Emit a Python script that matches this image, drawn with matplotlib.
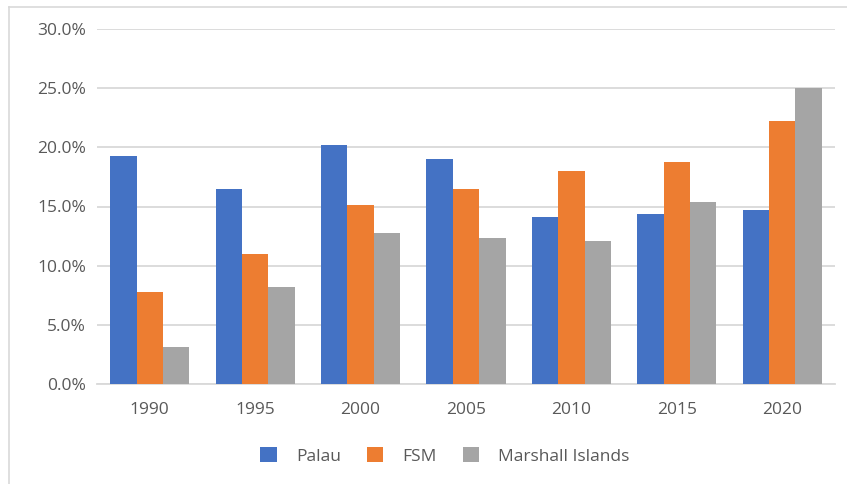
import matplotlib
matplotlib.use("Agg")
import matplotlib.pyplot as plt
import numpy as np
from matplotlib.ticker import PercentFormatter
from matplotlib.lines import Line2D

years = ["1990", "1995", "2000", "2005", "2010", "2015", "2020"]
palau = [19.3, 16.5, 20.2, 19.0, 14.1, 14.4, 14.7]
fsm = [7.8, 11.0, 15.1, 16.5, 18.0, 18.8, 22.2]
marshall = [3.1, 8.2, 12.8, 12.3, 12.1, 15.4, 25.0]

series = [("Palau", palau, "#4472C4"),
          ("FSM", fsm, "#ED7D31"),
          ("Marshall Islands", marshall, "#A5A5A5")]

plt.rcParams["font.family"] = ["Open Sans", "DejaVu Sans"]
text_color = "#595959"
grid_color = "#D9D9D9"

fig = plt.figure(figsize=(8.47, 4.84), dpi=100)
ax = fig.add_axes([97 / 847, 100 / 484, (835 - 97) / 847, (384 - 29) / 484])

x = np.arange(len(years))
width = 0.25
for i, (name, vals, color) in enumerate(series):
    ax.bar(x + (i - 1) * width, vals, width, color=color, label=name, zorder=3)

ax.set_xlim(-0.5, len(years) - 0.5)
ax.set_ylim(0, 30)
ax.set_yticks(np.arange(0, 30.1, 5))
ax.yaxis.set_major_formatter(PercentFormatter(decimals=1))
ax.set_xticks(x)
ax.set_xticklabels(years)

ax.grid(axis="y", color=grid_color, linewidth=1.3, zorder=0)
for side in ("top", "right", "left"):
    ax.spines[side].set_visible(False)
ax.spines["bottom"].set_color(grid_color)
ax.spines["bottom"].set_linewidth(1.3)
ax.tick_params(axis="both", length=0, colors=text_color, labelsize=12.5)
ax.tick_params(axis="y", pad=8)
ax.tick_params(axis="x", pad=13)

# chart frame: thin top and left border lines
fig.add_artist(Line2D([9 / 847, 1], [1 - 7 / 484, 1 - 7 / 484],
                      transform=fig.transFigure, color=grid_color, lw=1.2))
fig.add_artist(Line2D([9 / 847, 9 / 847], [0, 1 - 7 / 484],
                      transform=fig.transFigure, color=grid_color, lw=1.2))

leg = fig.legend(loc="center", bbox_to_anchor=(445 / 847, 1 - 456 / 484),
                 ncol=3, frameon=False, fontsize=12.5, handlelength=0.95,
                 handleheight=0.95, handletextpad=1.1, columnspacing=1.5)
for t in leg.get_texts():
    t.set_color(text_color)

fig.savefig("out.png", dpi=100)
